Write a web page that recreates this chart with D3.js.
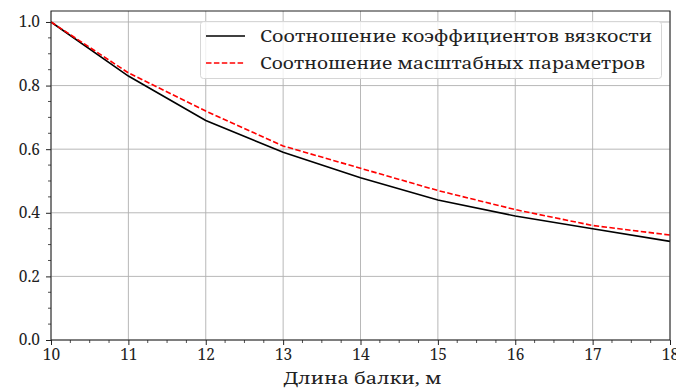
<!DOCTYPE html>
<html>
<head>
<meta charset="utf-8">
<script src="https://cdn.jsdelivr.net/npm/d3@7"></script>
<style>
  html, body { margin: 0; padding: 0; background: #fff; overflow: hidden; }
  svg { display: block; }
  text { font-family: "Noto Serif", "DejaVu Serif", serif; fill: #222; }
</style>
</head>
<body>
<svg id="chart" width="676" height="389"></svg>
<script>
// Beam length, m
const beamLength = [10, 11, 12, 13, 14, 15, 16, 17, 18];
// Ratio of viscosity coefficients
const viscosityRatio = [1.0, 0.83, 0.69, 0.59, 0.51, 0.44, 0.39, 0.35, 0.31];
// Ratio of scale parameters
const scaleRatio = [1.0, 0.84, 0.72, 0.61, 0.54, 0.47, 0.41, 0.36, 0.33];

const xTicks = [10, 11, 12, 13, 14, 15, 16, 17, 18];
const yTicks = [0.0, 0.2, 0.4, 0.6, 0.8, 1.0];
const seriesNames = ["Соотношение коэффициентов вязкости", "Соотношение масштабных параметров"];
const xLabel = "Длина балки, м";

const W = 676, H = 389;
const m = { left: 51, right: 6, top: 11, bottom: 49 };
const svg = d3.select("#chart");
const pw = W - m.left - m.right, ph = H - m.top - m.bottom;
const FONT = "'Noto Serif', 'DejaVu Serif', serif";

const x = d3.scaleLinear().domain([10, 18]).range([m.left, m.left + pw]);
const yMax = 1.0 + 0.05 * (1.0 - d3.min(viscosityRatio));
const y = d3.scaleLinear().domain([0, yMax]).range([m.top + ph, m.top]);

// grid
const grid = svg.append("g").attr("stroke", "#b0b0b0").attr("stroke-width", 0.9);
xTicks.forEach(t => grid.append("line")
  .attr("x1", x(t)).attr("x2", x(t)).attr("y1", m.top).attr("y2", m.top + ph));
yTicks.forEach(t => grid.append("line")
  .attr("x1", m.left).attr("x2", m.left + pw).attr("y1", y(t)).attr("y2", y(t)));

// series lines
const line = (vals) => d3.line().x((d, i) => x(beamLength[i])).y(d => y(d))(vals);
svg.append("path").attr("d", line(viscosityRatio))
  .attr("fill", "none").attr("stroke", "#000").attr("stroke-width", 1.6);
svg.append("path").attr("d", line(scaleRatio))
  .attr("fill", "none").attr("stroke", "#ff0000").attr("stroke-width", 1.6)
  .attr("stroke-dasharray", "5.5,2.4");

// frame
svg.append("rect").attr("x", m.left).attr("y", m.top).attr("width", pw).attr("height", ph)
  .attr("fill", "none").attr("stroke", "#222").attr("stroke-width", 1);

// axes
const xAxis = d3.axisBottom(x).tickValues(xTicks).tickFormat(d3.format("d"))
  .tickSize(5).tickPadding(4);
const gx = svg.append("g").attr("transform", `translate(0,${m.top + ph})`).call(xAxis);
const xMinor = d3.range(10, 18.001, 0.25).filter(v => Math.abs(v - Math.round(v)) > 1e-6);
gx.selectAll(".minor").data(xMinor).enter().append("line").attr("class", "minor")
  .attr("x1", d => x(d)).attr("x2", d => x(d)).attr("y1", 0).attr("y2", 3)
  .attr("stroke", "#222").attr("stroke-width", 0.8);

const yAxis = d3.axisLeft(y).tickValues(yTicks).tickFormat(d3.format(".1f"))
  .tickSize(5).tickPadding(6);
const gy = svg.append("g").attr("transform", `translate(${m.left},0)`).call(yAxis);
const yMinor = d3.range(0, 1.0001, 0.05).filter(v => Math.abs(v * 5 - Math.round(v * 5)) > 1e-6);
gy.selectAll(".minor").data(yMinor).enter().append("line").attr("class", "minor")
  .attr("x1", 0).attr("x2", -3).attr("y1", d => y(d)).attr("y2", d => y(d))
  .attr("stroke", "#222").attr("stroke-width", 0.8);

[gx, gy].forEach(g => {
  g.select(".domain").remove();
  g.selectAll(".tick line").attr("stroke", "#222").attr("stroke-width", 1);
  g.selectAll(".tick text").style("font-family", FONT).style("font-size", "15.5px").attr("fill", "#222");
});

svg.append("text").attr("x", 362.5).attr("y", 384)
  .attr("text-anchor", "middle").style("font-size", "16px")
  .attr("textLength", 158).attr("lengthAdjust", "spacingAndGlyphs").text(xLabel);

// legend
const lg = svg.append("g");
lg.append("rect").attr("x", 200.5).attr("y", 21.5).attr("width", 461).attr("height", 57)
  .attr("rx", 3).attr("fill", "rgba(255,255,255,0.8)").attr("stroke", "#d6d6d6").attr("stroke-width", 1);
const rowY = [36, 63];
lg.append("line").attr("x1", 206).attr("x2", 245).attr("y1", rowY[0]).attr("y2", rowY[0])
  .attr("stroke", "#000").attr("stroke-width", 1.6);
lg.append("line").attr("x1", 206).attr("x2", 245).attr("y1", rowY[1]).attr("y2", rowY[1])
  .attr("stroke", "#ff0000").attr("stroke-width", 1.6).attr("stroke-dasharray", "5.5,2.4");
const legendLen = [392, 385];
seriesNames.forEach((s, i) => lg.append("text").attr("x", 260).attr("y", rowY[i] + 6)
  .style("font-size", "16px")
  .attr("textLength", legendLen[i]).attr("lengthAdjust", "spacingAndGlyphs").text(s));
</script>
</body>
</html>
